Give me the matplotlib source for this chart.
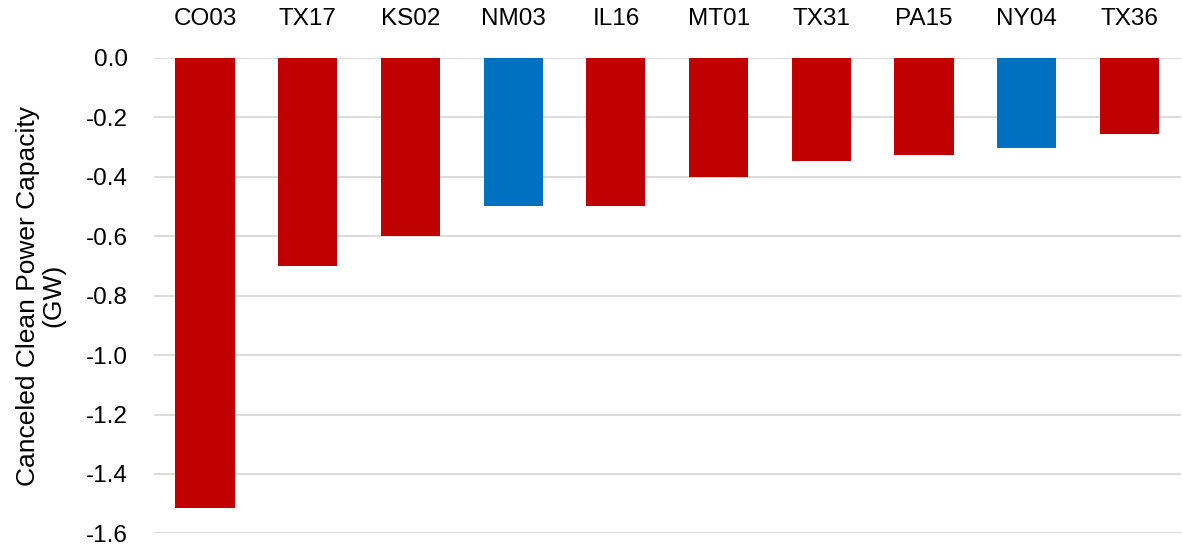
import matplotlib
matplotlib.use("Agg")
import matplotlib.pyplot as plt
import numpy as np

plt.rcParams['font.family'] = ['Liberation Sans', 'DejaVu Sans']
plt.rcParams['axes.unicode_minus'] = False

# districts and canceled capacity (GW)
districts = ['CO03', 'TX17', 'KS02', 'NM03', 'IL16', 'MT01', 'TX31', 'PA15', 'NY04', 'TX36']
capacity = [-1.515, -0.70, -0.60, -0.50, -0.50, -0.40, -0.346, -0.328, -0.303, -0.256]
party = ['R', 'R', 'R', 'D', 'R', 'R', 'R', 'R', 'D', 'R']
yticks = [0.0, -0.2, -0.4, -0.6, -0.8, -1.0, -1.2, -1.4, -1.6]

colors = {'R': '#C00000', 'D': '#0070C0'}

fig = plt.figure(figsize=(11.82, 5.46), dpi=100)
ax = fig.add_axes([0.130, 0.023, 0.869, 0.871])

x = np.arange(len(districts))
ax.bar(x, capacity, width=0.575, color=[colors[p] for p in party], zorder=3)

ax.set_xlim(-0.5, len(districts) - 0.5)
ax.set_ylim(-1.6, 0.0)
ax.set_yticks(yticks)
ax.set_yticklabels([f"{v:.1f}" for v in yticks])
ax.yaxis.grid(True, color='#D9D9D9', linewidth=1.3, zorder=0)

ax.xaxis.tick_top()
ax.set_xticks(x)
ax.set_xticklabels(districts)
ax.tick_params(axis='both', length=0, labelsize=17.5, colors='black')
ax.tick_params(axis='x', pad=20)
ax.tick_params(axis='y', pad=18.5)

for s in ax.spines.values():
    s.set_visible(False)

ax.set_ylabel("Canceled Clean Power Capacity\n(GW)", fontsize=19, va='center',
              linespacing=1.1)
ax.yaxis.set_label_coords(-0.110, 0.5)

fig.savefig("out.png", dpi=100)
